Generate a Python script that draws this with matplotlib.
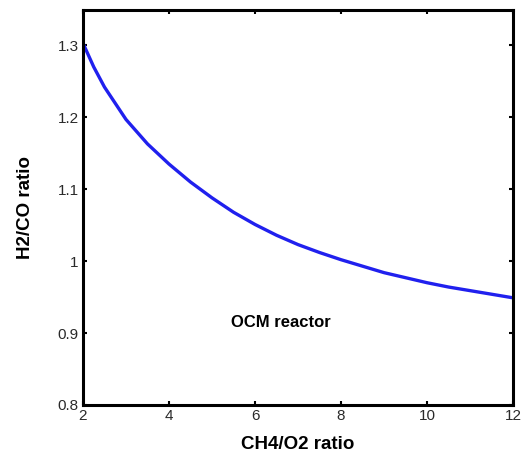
import matplotlib
matplotlib.use("Agg")
import matplotlib.pyplot as plt

ch4_o2 = [2.0, 2.25, 2.5, 3.0, 3.5, 4.0, 4.5, 5.0, 5.5, 6.0, 6.5, 7.0, 7.5,
          8.0, 8.5, 9.0, 9.5, 10.0, 10.5, 11.0, 11.5, 12.0]
h2_co = [1.303, 1.270, 1.242, 1.197, 1.163, 1.135, 1.110, 1.088, 1.068, 1.051,
         1.036, 1.023, 1.012, 1.002, 0.993, 0.984, 0.977, 0.970, 0.964, 0.959,
         0.954, 0.949]
xticks = [2, 4, 6, 8, 10, 12]
yticks = [0.8, 0.9, 1.0, 1.1, 1.2, 1.3]
yticklabels = ["0.8", "0.9", "1", "1.1", "1.2", "1.3"]

plt.rcParams['font.family'] = ['Liberation Sans', 'DejaVu Sans']

fig = plt.figure(figsize=(5.22, 4.62), dpi=100)
ax = fig.add_axes([0.159, 0.1234, 0.824, 0.8546])
ax.plot(ch4_o2, h2_co, color='#2020ee', lw=2.4, solid_joinstyle='round')
ax.set_xlim(2, 12)
ax.set_ylim(0.8, 1.349)
ax.set_xticks(xticks)
ax.set_yticks(yticks)
ax.set_yticklabels(yticklabels)
for s in ax.spines.values():
    s.set_linewidth(2.2)
ax.tick_params(direction='in', length=3, width=1.5, top=True, right=True,
               labelsize=11, labelcolor='#2a2a2a', pad=3)
ax.set_xlabel('CH4/O2 ratio', fontsize=13.5, fontweight='bold', labelpad=9)
ax.set_ylabel('H2/CO ratio', fontsize=13.5, fontweight='bold', labelpad=17)
ax.text(6.6, 0.915, 'OCM reactor', fontsize=12, fontweight='bold', ha='center', va='center')
fig.savefig('out.png', dpi=100)
